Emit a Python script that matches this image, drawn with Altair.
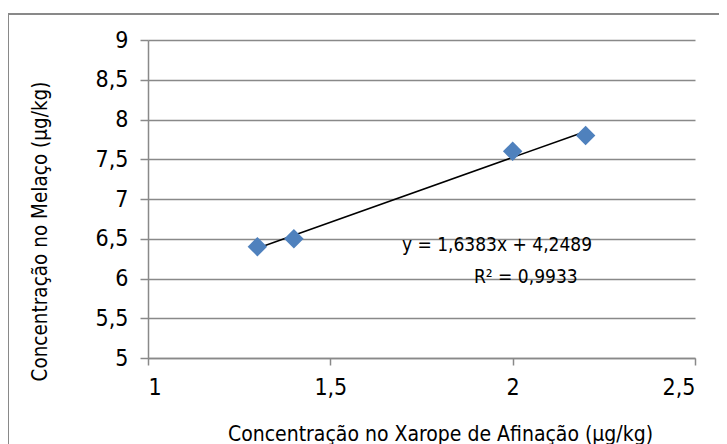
import altair as alt
import pandas as pd

x_vals = [1.3, 1.4, 2.0, 2.2]
y_vals = [6.4, 6.5, 7.6, 7.8]
trend_x = [1.3, 2.2]
trend_y = [6.38, 7.85]
eq_text = ["y = 1,6383x + 4,2489", "R² = 0,9933"]
eq_x = [1.957, 2.036]
eq_y = [6.42, 6.02]

FONT = "DejaVu Sans Condensed"
GRAY = "#898989"

pts = pd.DataFrame({"x": x_vals, "y": y_vals})
trend = pd.DataFrame({"x": trend_x, "y": trend_y})
eq = pd.DataFrame({"x": eq_x, "y": eq_y, "t": eq_text})

fmt = "replace(format(datum.value, ''), '.', ',')"

xscale = alt.Scale(domain=[1, 2.5], nice=False, zero=False)
yscale = alt.Scale(domain=[5, 9], nice=False, zero=False)

xaxis = alt.Axis(
    title="Concentração no Xarope de Afinação (µg/kg)",
    values=[1, 1.5, 2, 2.5], labelExpr=fmt, grid=False, labelOverlap=False,
    domainColor=GRAY, domainWidth=1.5, tickColor=GRAY, tickWidth=1.5, tickSize=7,
    labelFont=FONT, labelFontSize=23, labelColor="#000", labelPadding=11,
    titleFont=FONT, titleFontSize=21, titleFontWeight="normal", titleColor="#000",
    titleX=292, titleY=76, titleBaseline="middle", titleAnchor="middle",
)
yaxis = alt.Axis(
    title="Concentração no Melaço (µg/kg)",
    values=[5, 5.5, 6, 6.5, 7, 7.5, 8, 8.5, 9], labelExpr=fmt, labelOverlap=False,
    grid=True, gridColor=GRAY, gridWidth=1.5,
    domainColor=GRAY, domainWidth=1.5, tickColor=GRAY, tickWidth=1.5, tickSize=8,
    labelFont=FONT, labelFontSize=23, labelColor="#000", labelPadding=12,
    titleFont=FONT, titleFontSize=20.5, titleFontWeight="normal", titleColor="#000",
    titleX=-108, titleY=191, titleBaseline="middle", titleAnchor="middle",
)

X = alt.X("x:Q", scale=xscale, axis=xaxis)
Y = alt.Y("y:Q", scale=yscale, axis=yaxis)

border = alt.Chart(pd.DataFrame({"a": [0]})).mark_rect(
    fill=None, stroke=GRAY, strokeWidth=2
).encode(
    x=alt.value(-140), x2=alt.value(590), y=alt.value(-26), y2=alt.value(440)
)

line = alt.Chart(trend).mark_line(color="black", strokeWidth=1.5).encode(x=X, y=Y)

points = alt.Chart(pts).mark_point(
    shape="diamond", filled=True, size=380, color="#4f81bd", opacity=1
).encode(x=X, y=Y)

text = alt.Chart(eq).mark_text(
    font=FONT, fontSize=19, color="black", align="center", baseline="middle"
).encode(x=X, y=Y, text="t:N")

chart = alt.layer(border, line, points, text).properties(
    width=547, height=318,
    autosize=alt.AutoSizeParams(type="none"),
    padding={"left": 140, "top": 32, "right": 24, "bottom": 96},
    background="white",
).configure_view(stroke=None)

chart.save("out.html", embed_options={"renderer": "svg", "actions": False})
